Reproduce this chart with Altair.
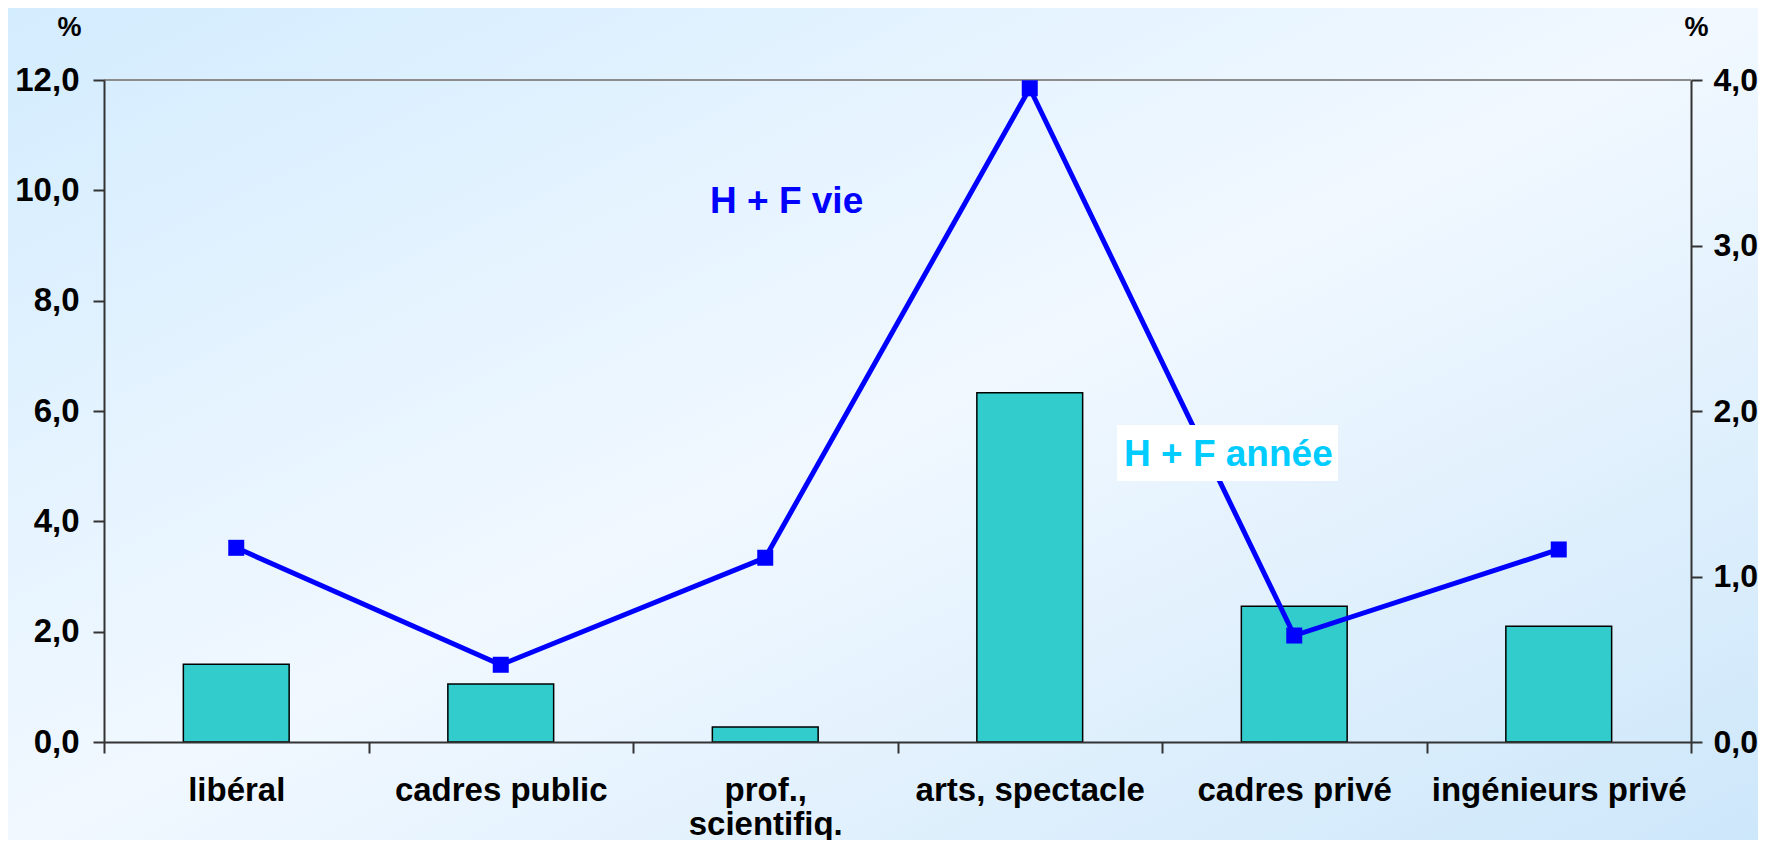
import altair as alt
import pandas as pd

categories = ["libéral", "cadres public", "prof., scientifiq.", "arts, spectacle", "cadres privé", "ingénieurs privé"]
annee = [0.47, 0.35, 0.09, 2.11, 0.82, 0.70]     # right axis (0-4 %)
vie = [3.52, 1.40, 3.34, 11.85, 1.93, 3.49]      # left axis (0-12 %)
left_ticks = [0, 2, 4, 6, 8, 10, 12]
right_ticks = [0, 1, 2, 3, 4]

df = pd.DataFrame({"cat": categories, "annee": annee, "vie": vie})

W, H = 1587, 662
PAD = {"left": 96, "top": 72, "right": 67, "bottom": 98}
FONT = "Liberation Sans"

xenc = alt.X("cat:N", sort=categories, title=None,
             scale=alt.Scale(paddingInner=0, paddingOuter=0),
             axis=alt.Axis(orient="bottom", tickBand="extent", labelAngle=0,
                           labelFont=FONT, labelFontSize=33, labelFontWeight="bold",
                           labelColor="black", labelPadding=21, tickSize=11,
                           labelLineHeight=34, labelBaseline="top", zindex=1,
                           labelLimit=0,
                           labelExpr="datum.label == 'prof., scientifiq.' ? ['prof.,', 'scientifiq.'] : datum.label"))

bg = alt.Chart(alt.Data(values=[{}])).mark_rect(
    fill=alt.LinearGradient(gradient="linear",
                            stops=[alt.GradientStop(color="#d3ecfe", offset=0),
                                   alt.GradientStop(color="#f1f8ff", offset=0.5),
                                   alt.GradientStop(color="#cde7fa", offset=1)],
                            x1=0, y1=0, x2=1, y2=1),
    stroke=None
).encode(x=alt.value(-PAD["left"]), x2=alt.value(W + PAD["right"]),
         y=alt.value(-PAD["top"]), y2=alt.value(H + PAD["bottom"]))

top_line = alt.Chart(alt.Data(values=[{}])).mark_rule(color="#8c8c8c", strokeWidth=2).encode(
    x=alt.value(0), x2=alt.value(W), y=alt.value(0))

bars = alt.Chart(df).mark_bar(width=alt.RelativeBandSize(0.4), fill="#33CCCC",
                              stroke="black", strokeWidth=1.5).encode(
    x=xenc,
    y=alt.Y("annee:Q", title="%",
            scale=alt.Scale(domain=[0, 4], nice=False),
            axis=alt.Axis(orient="right", values=right_ticks, grid=False, zindex=1,
                          labelExpr="replace(format(datum.value, '.1f'), '.', ',')",
                          labelFont=FONT, labelFontSize=32, labelFontWeight="bold",
                          labelColor="black", tickSize=11, labelPadding=11,
                          labelLimit=0,
                          titleAngle=0, titleX=5, titleY=-53, titleAlign="center",
                          titleBaseline="middle", titleFont=FONT, titleFontSize=27,
                          titleFontWeight="bold", titleColor="black"))
)

line = alt.Chart(df).mark_line(color="#0000FF", strokeWidth=5,
                               point=alt.OverlayMarkDef(shape="square", size=256,
                                                        filled=True, color="#0000FF",
                                                        opacity=1)).encode(
    x=xenc,
    y=alt.Y("vie:Q", title="%",
            scale=alt.Scale(domain=[0, 12], nice=False),
            axis=alt.Axis(orient="left", values=left_ticks, grid=False, zindex=1,
                          labelExpr="replace(format(datum.value, '.1f'), '.', ',')",
                          labelFont=FONT, labelFontSize=33, labelFontWeight="bold",
                          labelColor="black", tickSize=11, labelPadding=14,
                          labelLimit=0,
                          titleAngle=0, titleX=-35, titleY=-53, titleAlign="center",
                          titleBaseline="middle", titleFont=FONT, titleFontSize=27,
                          titleFontWeight="bold", titleColor="black"))
)

vie_label = alt.Chart(alt.Data(values=[{}])).mark_text(
    text="H + F vie", font=FONT, fontSize=37, fontWeight="bold", color="#0000FF",
    align="left", baseline="alphabetic"
).encode(x=alt.value(606), y=alt.value(133))

box = alt.Chart(alt.Data(values=[{}])).mark_rect(fill="white").encode(
    x=alt.value(1013), x2=alt.value(1234), y=alt.value(345), y2=alt.value(401))

annee_label = alt.Chart(alt.Data(values=[{}])).mark_text(
    text="H + F année", font=FONT, fontSize=37, fontWeight="bold", color="#00CCFF",
    align="left", baseline="alphabetic"
).encode(x=alt.value(1020), y=alt.value(386))

chart = alt.layer(
    bg, top_line,
    alt.layer(bars, line).resolve_scale(y="independent"),
    box, vie_label, annee_label
).properties(
    width=W, height=H,
    padding=PAD,
    autosize=alt.AutoSizeParams(type="none"),
    background="white"
).configure_view(
    stroke=None
).configure_axis(
    domainColor="#333333", domainWidth=2, tickColor="#333333", tickWidth=2
)

chart.save("out.html", embed_options={"renderer": "svg", "actions": False})
